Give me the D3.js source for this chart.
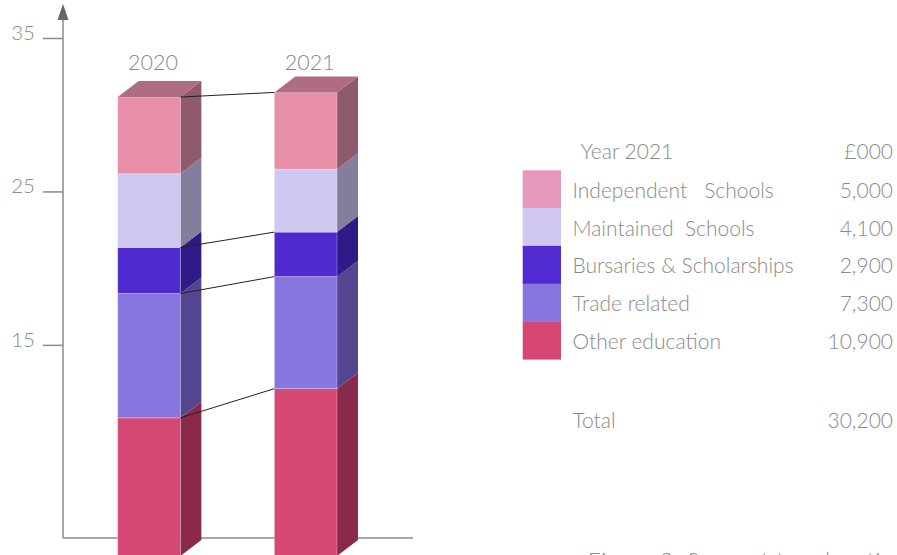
<!DOCTYPE html>
<html>
    <head>
        <title>Support to education</title>
        <script src="https://d3js.org/d3.v7.min.js"></script>
        <style>
            body { margin: 0; background: #fff; }
            text { font-family: Lato, "Open Sans", sans-serif; font-weight: 300; fill: #8a8a8a; }
        </style>
    </head>
    <body>
        <div class="chart"></div>
        <script>
            // data, £m (bars)
            let categories = ["Independent   Schools", "Maintained  Schools", "Bursaries & Scholarships", "Trade related", "Other education"];
            let keys = ["indep", "maint", "burs", "trade", "other"];
            let years = ["2020", "2021"];
            let values2020 = [5.0, 4.8, 3.0, 8.1, 9.0];
            let values2021 = [5.0, 4.1, 2.9, 7.3, 10.9];
            let axisTicks = [15, 25, 35];
            let legendYear = "Year 2021";
            let legendUnit = "£000";
            let caption = "Figure 2: Support to education";

            // colours
            let front = ["#e78fa8", "#d0c8f0", "#4f2bcf", "#8775e0", "#d44873"];
            let side = ["#8f5a6c", "#857d9c", "#301a87", "#55458f", "#8a2a4a"];
            let legendFill = ["#e598ba", "#d0c8f0", "#4f2bd1", "#8775e0", "#d54772"];
            let topFace = "#b06c80";

            let width = 897, height = 555;
            let depthX = 21, depthY = -16;

            let rows = years.map(function (yr, i) {
                let row = { year: yr };
                let vals = i == 0 ? values2020 : values2021;
                keys.forEach(function (k, j) { row[k] = vals[j]; });
                return row;
            });

            let svg = d3.select('.chart')
                .append('svg')
                .attr("width", width)
                .attr("height", height);

            let x = d3.scaleBand()
                .domain(years)
                .range([117.7, 337])
                .paddingInner(0.6)
                .paddingOuter(0);

            let y = d3.scaleLinear()
                .domain([0, 35])
                .range([556, 556 - 35 * 15.35]);

            // the printed axis is offset from the bars in the original
            let yAxisScale = d3.scaleLinear()
                .domain([0, 35])
                .range([575, 38]);

            // axes
            let yAxis = d3.axisLeft(yAxisScale).tickValues(axisTicks).tickSize(20).tickPadding(8);
            let ax = svg.append("g")
                .attr("class", "y axis")
                .attr("transform", "translate(63,0)")
                .call(yAxis);
            ax.select(".domain").remove();
            ax.selectAll(".tick line").attr("stroke", "#8a8a8a").attr("stroke-width", 1.5);
            ax.selectAll(".tick text")
                .attr("dy", "0.06em")
                .style("font-size", "20.5px")
                .style("font-family", "Lato, sans-serif")
                .attr("fill", "#8a8a8a");

            svg.append("line")
                .attr("x1", 63).attr("x2", 63)
                .attr("y1", 14).attr("y2", 538)
                .attr("stroke", "#8a8a8a").attr("stroke-width", 1.5);
            svg.append("path")
                .attr("d", "M63,4 L57.5,20 L68.5,20 Z")
                .attr("fill", "#666");
            svg.append("line")
                .attr("x1", 63).attr("x2", 413)
                .attr("y1", 538).attr("y2", 538)
                .attr("stroke", "#8a8a8a").attr("stroke-width", 1.5);

            // stacked 3d bars, bottom = other education
            let stack = d3.stack().keys(keys.slice().reverse());
            let series = stack(rows);

            series.forEach(function (s) {
                let ci = keys.indexOf(s.key);
                s.forEach(function (d) {
                    let x0 = x(d.data.year), x1 = x0 + x.bandwidth();
                    let yTop = y(d[1]), yBot = y(d[0]);
                    let g = svg.append("g");
                    g.append("path")
                        .attr("d", "M" + x1 + "," + yBot + " L" + x1 + "," + yTop +
                            " L" + (x1 + depthX) + "," + (yTop + depthY) +
                            " L" + (x1 + depthX) + "," + (yBot + depthY) + " Z")
                        .attr("fill", side[ci]);
                    g.append("rect")
                        .attr("x", x0).attr("y", yTop)
                        .attr("width", x.bandwidth()).attr("height", yBot - yTop)
                        .attr("fill", front[ci])
                        .attr("stroke", "rgba(255,255,255,0.35)")
                        .attr("stroke-width", 0.8);
                    if (ci == 0) {
                        g.append("path")
                            .attr("d", "M" + x0 + "," + yTop + " L" + (x0 + depthX) + "," + (yTop + depthY) +
                                " L" + (x1 + depthX) + "," + (yTop + depthY) + " L" + x1 + "," + yTop + " Z")
                            .attr("fill", topFace);
                    }
                });
            });

            // connector lines between the two bars
            let linkKeys = ["indep", "burs", "trade", "other"];
            linkKeys.forEach(function (k) {
                let s = series.find(function (t) { return t.key == k; });
                svg.append("line")
                    .attr("x1", x(years[0]) + x.bandwidth())
                    .attr("y1", y(s[0][1]))
                    .attr("x2", x(years[1]))
                    .attr("y2", y(s[1][1]))
                    .attr("stroke", "#222")
                    .attr("stroke-width", 1);
            });

            // year labels
            svg.selectAll(".yearlabel")
                .data(rows)
                .enter()
                .append("text")
                .attr("class", "yearlabel")
                .attr("x", function (d) { return x(d.year) + x.bandwidth() / 2 + 4; })
                .attr("y", 70)
                .style("text-anchor", "middle")
                .style("font-size", "21.5px")
                .text(function (d) { return d.year; });

            // legend table
            let fmt = d3.format(",");
            let legend = svg.append("g").attr("class", "legend");
            let rowH = 37.8, boxX = 522.7, boxY = 170.3, labelX = 572.5, valX = 893;

            legend.append("text").attr("x", 580.5).attr("y", 159).style("font-size", "21px").text(legendYear);
            legend.append("text").attr("x", valX).attr("y", 159).style("font-size", "21px")
                .style("text-anchor", "end").text(legendUnit);

            let lr = legend.selectAll(".lrow")
                .data(categories)
                .enter()
                .append("g")
                .attr("class", "lrow")
                .attr("transform", function (d, i) { return "translate(0," + (boxY + i * rowH) + ")"; });

            lr.append("rect")
                .attr("x", boxX).attr("y", 0)
                .attr("width", 38.3).attr("height", rowH + 0.3)
                .attr("fill", function (d, i) { return legendFill[i]; });
            lr.append("text")
                .attr("x", labelX).attr("y", 27.5)
                .style("font-size", "21px")
                .style("white-space", "pre")
                .text(function (d) { return d; });
            lr.append("text")
                .attr("x", valX).attr("y", 27.5)
                .style("font-size", "21px")
                .style("text-anchor", "end")
                .text(function (d, i) { return fmt(values2021[i] * 1000); });

            let total = d3.sum(values2021) * 1000;
            legend.append("text").attr("x", labelX).attr("y", 427.5).style("font-size", "21px").text("Total");
            legend.append("text").attr("x", valX).attr("y", 427.5).style("font-size", "21px")
                .style("text-anchor", "end").text(fmt(Math.round(total)));

            // caption runs off the bottom edge in the original too
            svg.append("text")
                .attr("x", 588)
                .attr("y", 568)
                .style("font-size", "22px")
                .style("letter-spacing", "1px")
                .text(caption);
        </script>
    </body>
</html>
